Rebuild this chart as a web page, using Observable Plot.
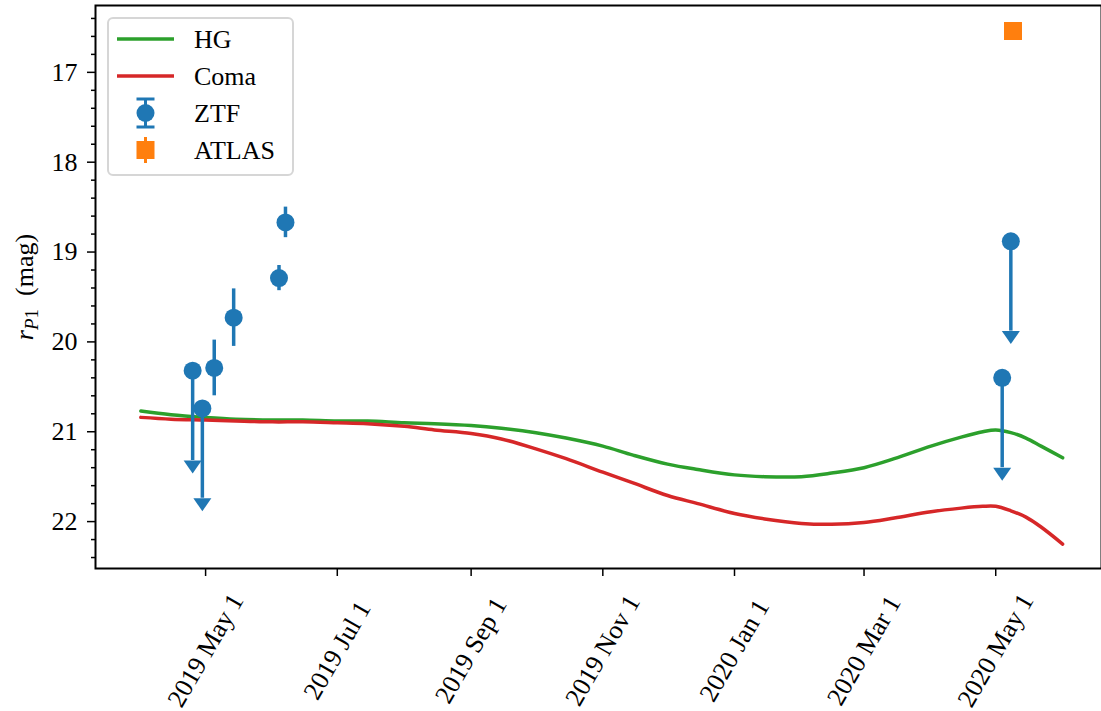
<!DOCTYPE html>
<html><head><meta charset="utf-8">
<script src="https://cdn.jsdelivr.net/npm/d3@7"></script>
<script src="https://cdn.jsdelivr.net/npm/@observablehq/plot@0.6"></script>
<style>
body{margin:0;background:#fff;}
#wrap{position:relative;width:1101px;height:711px;overflow:hidden;}
#wrap svg{position:absolute;left:0;top:0;}
</style></head><body><div id="wrap"></div>
<script>
// ---- model curves ----
const curveDates = ["2019-04-01","2019-04-15","2019-05-01","2019-05-15","2019-06-01","2019-06-15","2019-07-01","2019-07-15","2019-08-01","2019-08-15","2019-09-01","2019-09-15","2019-10-01","2019-10-15","2019-11-01","2019-11-15","2019-12-01","2019-12-15","2020-01-01","2020-01-15","2020-02-01","2020-02-15","2020-03-01","2020-03-15","2020-04-01","2020-04-15","2020-04-25","2020-05-01","2020-05-08","2020-05-15","2020-05-22","2020-06-01"];
const hgMag   = [20.77,20.81,20.84,20.86,20.87,20.87,20.88,20.88,20.90,20.91,20.93,20.96,21.01,21.07,21.16,21.26,21.36,21.42,21.48,21.50,21.50,21.46,21.40,21.30,21.16,21.06,21.00,20.98,21.01,21.07,21.16,21.29];
const comaMag = [20.84,20.86,20.87,20.88,20.89,20.89,20.90,20.91,20.94,20.98,21.02,21.08,21.19,21.30,21.45,21.57,21.71,21.80,21.91,21.97,22.02,22.03,22.01,21.96,21.89,21.85,21.83,21.83,21.88,21.95,22.06,22.25];

// ---- ZTF photometry ----
const ztfDates = ["2019-04-25","2019-04-29T12:00Z","2019-05-05","2019-05-14","2019-06-04","2019-06-07","2020-05-04","2020-05-08"];
const ztfMag   = [20.32, 20.74, 20.29, 19.73, 19.29, 18.67, 20.40, 18.88];
const ztfErr   = [1.0, 1.0, 0.31, 0.32, 0.14, 0.17, 1.0, 1.0];
const ztfLimit = [true, true, false, false, false, false, true, true];

// ---- ATLAS photometry ----
const atlasDates = ["2020-05-09"];
const atlasMag   = [16.54];

// ---- axes ----
const xDomain = ["2019-03-11", "2020-06-19"];
const yDomain = [22.522, 16.256];
const xTicks = ["2019-05-01","2019-07-01","2019-09-01","2019-11-01","2020-01-01","2020-03-01","2020-05-01"];
const yTicks = [17, 18, 19, 20, 21, 22];
const yMinorTicks = [16.4,16.6,16.8,17.2,17.4,17.6,17.8,18.2,18.4,18.6,18.8,19.2,19.4,19.6,19.8,20.2,20.4,20.6,20.8,21.2,21.4,21.6,21.8,22.2,22.4];

const legendLabels = ["HG", "Coma", "ZTF", "ATLAS"];
const C = {hg: "#2ca02c", coma: "#d62728", ztf: "#1f77b4", atlas: "#ff7f0e"};

const parse = s => new Date(s.length === 10 ? s + "T00:00:00Z" : s);
const curves = curveDates.map((d, i) => ({date: parse(d), hg: hgMag[i], coma: comaMag[i]}));
const ztf = ztfDates.map((d, i) => ({date: parse(d), mag: ztfMag[i], err: ztfErr[i], limit: ztfLimit[i]}));
const ztfMeas = ztf.filter(d => !d.limit);
const ztfLim = ztf.filter(d => d.limit);
const atlas = atlasDates.map((d, i) => ({date: parse(d), mag: atlasMag[i]}));

const caretDown = {draw(ctx) { ctx.moveTo(-9, 0); ctx.lineTo(9, 0); ctx.lineTo(0, 13); ctx.closePath(); }};
const squareSym = {draw(ctx) { ctx.moveTo(-9, -9); ctx.lineTo(9, -9); ctx.lineTo(9, 9); ctx.lineTo(-9, 9); ctx.closePath(); }};
const fmt = d3.utcFormat("%Y %b %-d");
const FONT = "'Liberation Serif', 'Times New Roman', serif";
const FS = 26;

const chart = Plot.plot({
  width: 1101,
  height: 711,
  marginLeft: 95,
  marginRight: 0,
  marginTop: 5,
  marginBottom: 143,
  style: {fontFamily: FONT, fontSize: FS + "px", color: "black", background: "transparent"},
  x: {type: "utc", domain: xDomain.map(parse)},
  y: {domain: yDomain},
  marks: [
    Plot.line(curves, {x: "date", y: "hg", stroke: C.hg, strokeWidth: 3.5, curve: "catmull-rom"}),
    Plot.line(curves, {x: "date", y: "coma", stroke: C.coma, strokeWidth: 3.5, curve: "catmull-rom"}),
    Plot.ruleX(ztfMeas, {x: "date", y1: d => d.mag - d.err, y2: d => d.mag + d.err, stroke: C.ztf, strokeWidth: 3.5}),
    Plot.ruleX(ztfLim, {x: "date", y1: "mag", y2: d => d.mag + d.err, stroke: C.ztf, strokeWidth: 3.5}),
    Plot.dot(ztfLim, {x: "date", y: d => d.mag + d.err, symbol: caretDown, fill: C.ztf, stroke: "none"}),
    Plot.dot(ztf, {x: "date", y: "mag", r: 9, fill: C.ztf, stroke: "none"}),
    Plot.dot(atlas, {x: "date", y: "mag", symbol: squareSym, fill: C.atlas, stroke: "none"}),
    Plot.axisY({ticks: yMinorTicks, tickSize: 4, tickFormat: () => "", label: null, stroke: "black", strokeWidth: 1.5}),
    Plot.axisY({ticks: yTicks, tickSize: 8, tickPadding: 10, tickFormat: d3.format("d"), fontSize: FS, label: null, stroke: "black", strokeWidth: 1.5}),
    Plot.axisX({ticks: xTicks.map(parse), tickFormat: fmt, tickSize: 8, tickPadding: 74, tickRotate: -60,
                textAnchor: "middle", lineAnchor: "middle", fontSize: FS, label: null, stroke: "black", strokeWidth: 1.5}),
    Plot.frame({stroke: "black", strokeWidth: 2})
  ]
});

const wrap = document.getElementById("wrap");
wrap.appendChild(chart);

// y-axis label with subscript
const svg = d3.select(chart);
const yl = svg.append("text")
  .attr("transform", "translate(33,287) rotate(-90)")
  .attr("text-anchor", "middle")
  .attr("font-family", FONT)
  .attr("font-size", FS)
  .attr("fill", "black");
yl.append("tspan").attr("font-style", "italic").text("r");
yl.append("tspan").attr("font-style", "italic").attr("font-size", 19).attr("dy", 5).text("P");
yl.append("tspan").attr("font-size", 19).text("1");
yl.append("tspan").attr("dy", -5).text("\u2002(mag)");

// legend (overlay)
const lg = d3.select(wrap).append("svg").attr("width", 1101).attr("height", 711)
  .style("pointer-events", "none");
lg.append("rect").attr("x", 108).attr("y", 18).attr("width", 185).attr("height", 157).attr("rx", 5)
  .attr("fill", "white").attr("fill-opacity", 0.8).attr("stroke", "#d6d6d6").attr("stroke-width", 2);
const rowY = [39, 76, 113, 150];
const hx = 145.5;
[[C.hg, rowY[0]], [C.coma, rowY[1]]].forEach(([c, y]) => {
  lg.append("line").attr("x1", 117).attr("x2", 174).attr("y1", y).attr("y2", y).attr("stroke", c).attr("stroke-width", 3.5);
});
lg.append("line").attr("x1", hx).attr("x2", hx).attr("y1", rowY[2] - 14).attr("y2", rowY[2] + 14).attr("stroke", C.ztf).attr("stroke-width", 3);
[rowY[2] - 14, rowY[2] + 14].forEach(y => lg.append("line").attr("x1", hx - 9).attr("x2", hx + 9).attr("y1", y).attr("y2", y).attr("stroke", C.ztf).attr("stroke-width", 3));
lg.append("circle").attr("cx", hx).attr("cy", rowY[2]).attr("r", 9).attr("fill", C.ztf);
lg.append("line").attr("x1", hx).attr("x2", hx).attr("y1", rowY[3] - 13).attr("y2", rowY[3] + 13).attr("stroke", C.atlas).attr("stroke-width", 3);
lg.append("rect").attr("x", hx - 9).attr("y", rowY[3] - 9).attr("width", 18).attr("height", 18).attr("fill", C.atlas);
legendLabels.forEach((t, i) => {
  lg.append("text").attr("x", 194).attr("y", rowY[i] + 9).attr("font-family", FONT).attr("font-size", FS).attr("fill", "black").text(t);
});
</script></body></html>
